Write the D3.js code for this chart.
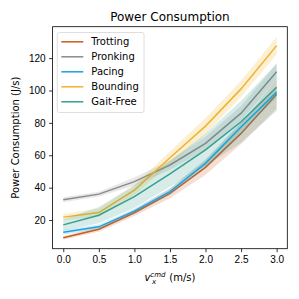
<!DOCTYPE html>
<html lang="en">
<head>
    <meta charset="utf-8">
    <title>Power Consumption</title>
    <style>
        body { margin: 0; background: #fff; }
        svg { display: block; font-family: "DejaVu Sans", sans-serif; }
        .axis text { font-size: 10px; fill: #000; }
        .axis path, .axis line { stroke: #000; stroke-width: 0.8; }
    </style>
    <script src="https://d3js.org/d3.v7.min.js"></script>
</head>
<body>
<svg></svg>
<script>
    const width = 299;
    const height = 299;

    // commanded speeds (m/s)
    const speeds = [0.0, 0.5, 1.0, 1.5, 2.0, 2.5, 3.0];
    const xTicks = [0.0, 0.5, 1.0, 1.5, 2.0, 2.5, 3.0];
    const yTicks = [20, 40, 60, 80, 100, 120];

    const gaits = ['Trotting', 'Pronking', 'Pacing', 'Bounding', 'Gait-Free'];
    const colors = ['#cc5a1c', '#8a8a8a', '#1ba3e0', '#f2b32a', '#35a08e'];

    // mean power (J/s)
    const trotting = [9.0, 14.3, 24.5, 36.5, 52.5, 73.5, 97.7];
    const pronking = [32.5, 36.0, 43.7, 54.0, 67.4, 86.0, 111.6];
    const pacing   = [12.5, 15.8, 25.5, 37.5, 55.0, 77.5, 99.0];
    const bounding = [21.8, 24.6, 38.5, 58.5, 78.0, 101.0, 127.7];
    const gaitFree = [17.0, 23.0, 34.5, 48.5, 63.3, 80.7, 102.0];

    // half width of the shaded band
    const trottingSpread = [1.0, 1.5, 2.0, 3.0, 4.5, 6.5, 9.0];
    const pronkingSpread = [1.5, 1.5, 2.5, 3.0, 4.0, 4.5, 5.0];
    const pacingSpread   = [1.5, 1.5, 1.5, 2.0, 2.5, 3.0, 3.5];
    const boundingSpread = [2.0, 2.5, 3.0, 4.0, 5.0, 5.0, 5.5];
    const gaitFreeSpread = [3.5, 5.0, 7.0, 8.0, 10.0, 13.0, 14.5];

    const means = [trotting, pronking, pacing, bounding, gaitFree];
    const spreads = [trottingSpread, pronkingSpread, pacingSpread, boundingSpread, gaitFreeSpread];

    const margin = {left: 52.6, right: 287.3, top: 26.7, bottom: 248.7};

    const svg = d3.select('svg').attr('width', width).attr('height', height);

    const x = d3.scaleLinear().domain([-0.15, 3.15]).range([margin.left, margin.right]);
    const y = d3.scaleLinear().domain([2.3, 139.4]).range([margin.bottom, margin.top]);

    const series = gaits.map((name, i) => ({
        name: name,
        color: colors[i],
        points: speeds.map((s, j) => ({x: s, y: means[i][j], lo: means[i][j] - spreads[i][j], hi: means[i][j] + spreads[i][j]}))
    }));

    const area = d3.area()
        .x(d => x(d.x))
        .y0(d => y(d.lo))
        .y1(d => y(d.hi));

    const line = d3.line()
        .x(d => x(d.x))
        .y(d => y(d.y));

    const plot = svg.append('g');

    series.forEach(s => {
        plot.append('path')
            .attr('d', area(s.points))
            .attr('fill', s.color)
            .attr('fill-opacity', 0.2)
            .attr('stroke', 'none');
        plot.append('path')
            .attr('d', line(s.points))
            .attr('fill', 'none')
            .attr('stroke', s.color)
            .attr('stroke-width', 1.5);
    });

    // axes
    svg.append('g')
        .attr('class', 'axis')
        .attr('transform', `translate(0,${margin.bottom})`)
        .call(d3.axisBottom(x).tickValues(xTicks).tickFormat(d3.format('.1f')).tickSize(3.5).tickPadding(3.5).tickSizeOuter(0))
        .call(g => g.select('.domain').remove());

    svg.append('g')
        .attr('class', 'axis')
        .attr('transform', `translate(${margin.left},0)`)
        .call(d3.axisLeft(y).tickValues(yTicks).tickSize(3.5).tickPadding(3.5).tickSizeOuter(0))
        .call(g => g.select('.domain').remove());

    svg.append('rect')
        .attr('x', margin.left)
        .attr('y', margin.top)
        .attr('width', margin.right - margin.left)
        .attr('height', margin.bottom - margin.top)
        .attr('fill', 'none')
        .attr('stroke', '#000')
        .attr('stroke-width', 0.8);

    // title and labels
    svg.append('text')
        .attr('x', (margin.left + margin.right) / 2)
        .attr('y', 21)
        .attr('text-anchor', 'middle')
        .attr('font-size', 12)
        .text('Power Consumption');

    svg.append('text')
        .attr('transform', `translate(19,${(margin.top + margin.bottom) / 2}) rotate(-90)`)
        .attr('text-anchor', 'middle')
        .attr('font-size', 10)
        .text('Power Consumption (J/s)');

    const xl = svg.append('text')
        .attr('x', (margin.left + margin.right) / 2)
        .attr('y', 281)
        .attr('text-anchor', 'middle')
        .attr('font-size', 10);
    xl.append('tspan').attr('font-style', 'italic').text('v');
    xl.append('tspan').attr('font-style', 'italic').attr('font-size', 7).attr('dy', -4).text('cmd');
    xl.append('tspan').attr('font-style', 'italic').attr('font-size', 7).attr('dx', -13.5).attr('dy', 7).text('x');
    xl.append('tspan').attr('dx', 10).attr('dy', -3).text(' (m/s)');

    // legend
    const legend = svg.append('g').attr('transform', 'translate(57.3,32.5)');
    legend.append('rect')
        .attr('width', 86.7)
        .attr('height', 80)
        .attr('rx', 2)
        .attr('fill', '#fff')
        .attr('fill-opacity', 0.8)
        .attr('stroke', '#d5d5d5')
        .attr('stroke-width', 0.8);

    const items = legend.selectAll('.item')
        .data(series)
        .enter().append('g')
        .attr('class', 'item')
        .attr('transform', (d, i) => `translate(0,${9.3 + i * 15})`);
    items.append('line')
        .attr('x1', 4).attr('x2', 26)
        .attr('stroke', d => d.color)
        .attr('stroke-width', 1.5);
    items.append('text')
        .attr('x', 34)
        .attr('dy', '0.35em')
        .attr('font-size', 10)
        .text(d => d.name);
</script>
</body>
</html>
